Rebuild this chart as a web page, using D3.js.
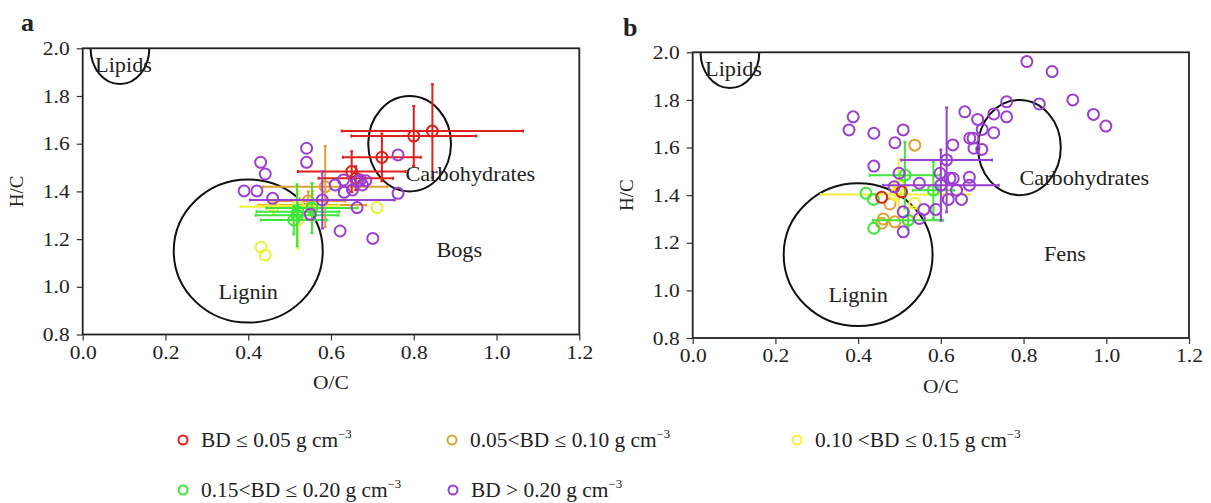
<!DOCTYPE html>
<html><head><meta charset="utf-8">
<script src="https://cdn.jsdelivr.net/npm/d3@7/dist/d3.min.js"></script>
<style>
body{margin:0;background:#fff;}
svg text{font-family:"Liberation Serif","Times New Roman",serif;fill:#222;}
</style></head>
<body><svg id="c" width="1211" height="503"></svg>
<script>
// ---------- DATA ----------
const xTicks = [0.0, 0.2, 0.4, 0.6, 0.8, 1.0, 1.2];
const yTicks = [0.8, 1.0, 1.2, 1.4, 1.6, 1.8, 2.0];
const seriesNames = ["BD ≤ 0.05 g cm", "0.05<BD ≤ 0.10 g cm", "0.10 <BD ≤ 0.15 g cm", "0.15<BD ≤ 0.20 g cm", "BD > 0.20 g cm"];
const seriesColors = ["#e0201c", "#e3a032", "#eef03a", "#3ee63a", "#9a3fd2"];
// each point: [O/C, H/C, xErr, yErr]
const bogsRed = [[0.845,1.653,0.219,0.196],[0.80,1.632,0.151,0.126],[0.723,1.543,0.094,0.10],[0.650,1.483,0.13,0.085],[0.66,1.455,0.09,0.05]];
const bogsOrange = [[0.586,1.42,0.15,0.17],[0.555,1.343,0.13,0.06],[0.545,1.36,0.09,0.04]];
const bogsYellow = [[0.711,1.332,0,0],[0.431,1.166,0,0],[0.441,1.133,0,0],[0.461,1.336,0.08,0.03],[0.52,1.28,0.04,0.12],[0.52,1.34,0.1,0.03]];
const bogsGreen = [[0.518,1.30,0.10,0.13],[0.554,1.33,0.11,0.105],[0.51,1.28,0.08,0.06],[0.52,1.315,0.1,0.03]];
const bogsPurple = [[0.541,1.581,0,0],[0.541,1.522,0,0],[0.430,1.522,0,0],[0.441,1.473,0,0],[0.390,1.402,0,0],[0.421,1.402,0,0],[0.459,1.371,0,0],[0.579,1.364,0.175,0.12],[0.55,1.304,0,0],[0.663,1.332,0,0],[0.622,1.234,0,0],[0.701,1.203,0,0],[0.762,1.553,0,0],[0.762,1.392,0,0],[0.610,1.427,0,0],[0.630,1.448,0,0],[0.632,1.396,0,0],[0.652,1.406,0,0],[0.664,1.441,0,0],[0.676,1.427,0,0],[0.684,1.445,0,0],[0.671,1.448,0,0]];
const fensRed = [[0.457,1.391,0,0],[0.505,1.414,0,0]];
const fensOrange = [[0.537,1.610,0,0],[0.477,1.363,0,0],[0.457,1.282,0,0],[0.489,1.288,0,0],[0.461,1.30,0,0]];
const fensYellow = [[0.49,1.403,0.18,0.03],[0.498,1.44,0.02,0.11],[0.537,1.366,0,0],[0.533,1.33,0,0]];
const fensGreen = [[0.419,1.408,0,0],[0.437,1.382,0,0],[0.438,1.261,0,0],[0.521,1.295,0.085,0.04],[0.513,1.484,0.085,0.14],[0.582,1.421,0.05,0.12]];
const fensPurple = [[0.808,1.961,0,0],[0.869,1.919,0,0],[0.919,1.80,0,0],[0.969,1.739,0,0],[0.999,1.690,0,0],[0.838,1.783,0,0],[0.759,1.792,0,0],[0.759,1.729,0,0],[0.728,1.741,0,0],[0.658,1.750,0,0],[0.689,1.718,0,0],[0.700,1.676,0,0],[0.728,1.662,0,0],[0.670,1.639,0,0],[0.678,1.639,0,0],[0.680,1.597,0,0],[0.699,1.592,0,0],[0.388,1.729,0,0],[0.378,1.674,0,0],[0.438,1.660,0,0],[0.509,1.674,0,0],[0.489,1.620,0,0],[0.629,1.611,0,0],[0.438,1.522,0,0],[0.499,1.492,0,0],[0.548,1.450,0,0],[0.614,1.548,0.11,0.22],[0.598,1.492,0,0],[0.622,1.471,0,0],[0.630,1.470,0,0],[0.60,1.442,0.14,0.15],[0.669,1.475,0,0],[0.669,1.442,0,0],[0.638,1.421,0,0],[0.618,1.382,0,0],[0.650,1.382,0,0],[0.588,1.340,0,0],[0.559,1.340,0,0],[0.548,1.302,0,0],[0.509,1.330,0,0],[0.509,1.246,0,0],[0.487,1.435,0,0]];
// regions: [name, cx, cy, rx, ry]
const regionEllipses = [["Lipids",0.09,2.0,0.071,0.15],["Lignin",0.40,1.15,0.18,0.30],["Carbohydrates",0.79,1.60,0.10,0.20]];
const regionLabelsA = [["Lipids",0.03,1.93,"start"],["Lignin",0.40,0.98,"middle"],["Carbohydrates",0.78,1.475,"start"],["Bogs",0.91,1.155,"middle"]];
const regionLabelsB = [["Lipids",0.03,1.93,"start"],["Lignin",0.40,0.98,"middle"],["Carbohydrates",0.79,1.475,"start"],["Fens",0.90,1.155,"middle"]];

const panels = [
  {tag:"a", box:[82.7,579.3,48.3,334.5], series:[bogsRed,bogsOrange,bogsYellow,bogsGreen,bogsPurple], labels:regionLabelsA, tagPos:[21,31]},
  {tag:"b", box:[692.7,1189,52.3,338], series:[fensRed,fensOrange,fensYellow,fensGreen,fensPurple], labels:regionLabelsB, tagPos:[623,36]}
];
const drawOrder = [1,2,3,0,4];
const STRETCH = 1.13;
function stretch(sel, s){
  sel.each(function(){
    const e = d3.select(this);
    const ax = +e.attr("x") || 0;
    e.attr("transform",`translate(${ax},0) scale(${s},1) translate(${-ax},0)`);
  });
}

const svg = d3.select("#c");
panels.forEach((p,pi)=>{
  const [l,r,t,b] = p.box;
  const x = d3.scaleLinear().domain([0,1.2]).range([l,r]);
  const y = d3.scaleLinear().domain([0.8,2.0]).range([b,t]);
  const g = svg.append("g");
  const cid = "clip"+pi;
  svg.append("clipPath").attr("id",cid).append("rect").attr("x",l).attr("y",t).attr("width",r-l).attr("height",b-t);
  const inner = g.append("g").attr("clip-path",`url(#${cid})`);
  inner.selectAll("ellipse").data(regionEllipses).join("ellipse")
    .attr("cx",d=>x(d[1])).attr("cy",d=>y(d[2]))
    .attr("rx",d=>x(d[3])-x(0)).attr("ry",d=>y(0.8)-y(0.8+d[4]))
    .attr("fill","none").attr("stroke","#111").attr("stroke-width",2);
  drawOrder.forEach(si=>{
    const col = seriesColors[si];
    const pts = p.series[si];
    const eg = inner.append("g").attr("stroke",col).attr("stroke-width",2).attr("fill","none");
    pts.filter(d=>d[2]>0).forEach(d=>{
      eg.append("line").attr("x1",x(d[0]-d[2])).attr("x2",x(d[0]+d[2])).attr("y1",y(d[1])).attr("y2",y(d[1]));
      eg.append("line").attr("x1",x(d[0]-d[2])).attr("x2",x(d[0]-d[2])).attr("y1",y(d[1])-1.5).attr("y2",y(d[1])+1.5);
      eg.append("line").attr("x1",x(d[0]+d[2])).attr("x2",x(d[0]+d[2])).attr("y1",y(d[1])-1.5).attr("y2",y(d[1])+1.5);
    });
    pts.filter(d=>d[3]>0).forEach(d=>{
      eg.append("line").attr("x1",x(d[0])).attr("x2",x(d[0])).attr("y1",y(d[1]-d[3])).attr("y2",y(d[1]+d[3]));
      eg.append("line").attr("x1",x(d[0])-1.5).attr("x2",x(d[0])+1.5).attr("y1",y(d[1]-d[3])).attr("y2",y(d[1]-d[3]));
      eg.append("line").attr("x1",x(d[0])-1.5).attr("x2",x(d[0])+1.5).attr("y1",y(d[1]+d[3])).attr("y2",y(d[1]+d[3]));
    });
    inner.append("g").selectAll("circle").data(pts).join("circle")
      .attr("cx",d=>x(d[0])).attr("cy",d=>y(d[1])).attr("r",5.5)
      .attr("fill","none").attr("stroke",col).attr("stroke-width",2);
  });
  const rl = g.selectAll("text.reg").data(p.labels).join("text").attr("class","reg")
    .attr("x",d=>x(d[1])).attr("y",d=>y(d[2])).attr("dy","0.35em")
    .attr("text-anchor",d=>d[3]).attr("font-size",21).text(d=>d[0]);
  stretch(rl, 1.06);
  g.append("rect").attr("x",l).attr("y",t).attr("width",r-l).attr("height",b-t)
    .attr("fill","none").attr("stroke","#222").attr("stroke-width",1.8);
  const xa = g.append("g").attr("transform",`translate(0,${b})`)
    .call(d3.axisBottom(x).tickValues(xTicks).tickFormat(d3.format(".1f")).tickSizeOuter(0).tickSize(6).tickPadding(5));
  const ya = g.append("g").attr("transform",`translate(${l},0)`)
    .call(d3.axisLeft(y).tickValues(yTicks).tickFormat(d3.format(".1f")).tickSizeOuter(0).tickSize(6).tickPadding(7));
  [xa,ya].forEach(a=>{
    a.select(".domain").remove();
    a.selectAll("line").attr("stroke","#333").attr("stroke-width",1.2);
    a.selectAll("text").attr("font-size",19).attr("fill","#222").style("font-family","Liberation Serif");
    stretch(a.selectAll("text"), STRETCH);
  });
  const ox = g.append("text").attr("x",(l+r)/2).attr("y",b+55).attr("text-anchor","middle").attr("font-size",19).text("O/C");
  stretch(ox, STRETCH);
  g.append("text").attr("transform",`translate(${l-60},${(t+b)/2}) rotate(-90)`).attr("text-anchor","middle").attr("font-size",19).text("H/C");
  g.append("text").attr("x",p.tagPos[0]).attr("y",p.tagPos[1]).attr("font-size",26).attr("font-weight","bold").text(p.tag);
});

const legendPos = [[183,440],[452,440],[797,440],[183,490],[453,490]];
seriesNames.forEach((n,i)=>{
  const [lx,ly] = legendPos[i];
  const lg = svg.append("g").attr("transform",`translate(${lx},${ly})`);
  lg.append("circle").attr("r",4.5).attr("fill","none").attr("stroke",seriesColors[i]).attr("stroke-width",2);
  const t = lg.append("text").attr("x",18).attr("y",7).attr("font-size",20);
  t.append("tspan").text(n);
  t.append("tspan").attr("font-size",12).attr("dy",-9).text("−3");
  stretch(t, 1.07);
});
</script></body></html>
